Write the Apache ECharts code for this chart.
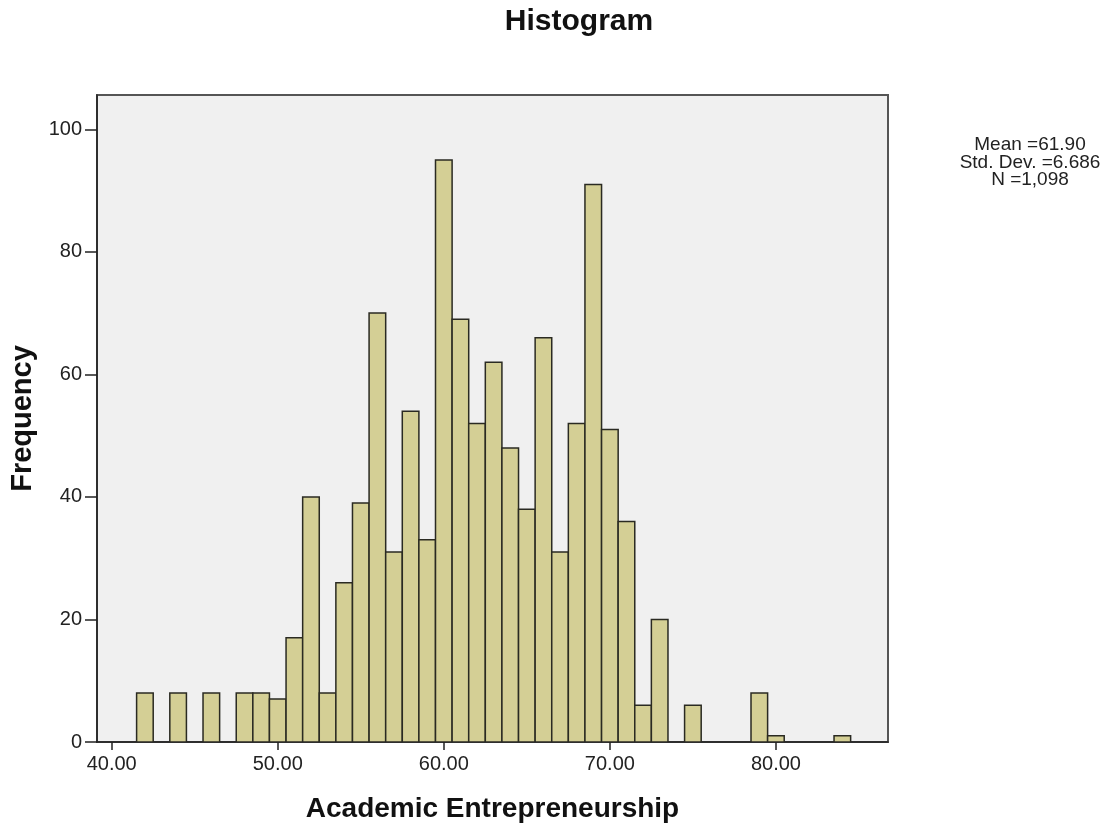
<!DOCTYPE html>
<html>
<head>
<meta charset="utf-8">
<title>Histogram</title>
<script src="https://cdn.jsdelivr.net/npm/echarts@6/dist/echarts.min.js"></script>
<style>
  html, body { margin: 0; padding: 0; background: #ffffff; }
  #main { width: 1116px; height: 829px; }
</style>
</head>
<body>
<div id="main"></div>
<script>
// bin centres (score) and how many cases fall in each bin
var binCenters = [42, 44, 46, 48, 49, 50, 51, 52, 53, 54, 55, 56, 57, 58, 59, 60, 61,
                  62, 63, 64, 65, 66, 67, 68, 69, 70, 71, 72, 73, 75, 79, 80, 84];
var frequencies = [8, 8, 8, 8, 8, 7, 17, 40, 8, 26, 39, 70, 31, 54, 33, 95, 69,
                   52, 62, 48, 38, 66, 31, 52, 91, 51, 36, 6, 20, 6, 8, 1, 1];
var binWidth = 1;
var xTicks = [40, 50, 60, 70, 80];
var yTicks = [0, 20, 40, 60, 80, 100];
var statLines = ['Mean =61.90', 'Std. Dev. =6.686', 'N =1,098'];

var seriesData = [];
for (var i = 0; i < binCenters.length; i++) {
    seriesData.push([binCenters[i], frequencies[i]]);
}

var chart = echarts.init(document.getElementById('main'));

// draw one rectangle per bin through the axis scales
function renderBin(params, api) {
    var c = api.value(0);
    var f = api.value(1);
    var p0 = api.coord([c - binWidth / 2, f]);
    var p1 = api.coord([c + binWidth / 2, 0]);
    return {
        type: 'rect',
        shape: { x: p0[0], y: p0[1], width: p1[0] - p0[0], height: p1[1] - p0[1] },
        style: { fill: '#d4cf95', stroke: '#2a2a22', lineWidth: 1.5 }
    };
}

var statText = [];
for (var k = 0; k < statLines.length; k++) {
    statText.push({
        type: 'text',
        style: {
            x: 1030, y: 145 + k * 17.5,
            text: statLines[k],
            font: '19px "Liberation Sans", Arial, sans-serif',
            fill: '#222',
            textAlign: 'center', textVerticalAlign: 'middle',
            align: 'center', verticalAlign: 'middle'
        }
    });
}

var option = {
    backgroundColor: '#ffffff',
    animation: false,
    textStyle: { fontFamily: '"Liberation Sans", Arial, sans-serif' },
    graphic: [{
        type: 'text',
        style: {
            x: 579, y: 22,
            text: 'Histogram',
            font: 'bold 30px "Liberation Sans", Arial, sans-serif',
            fill: '#111',
            textAlign: 'center', textVerticalAlign: 'middle',
            align: 'center', verticalAlign: 'middle'
        }
    }].concat(statText),
    grid: {
        left: 97, top: 95, width: 791, height: 647,
        show: true,
        backgroundColor: '#f0f0f0',
        borderColor: '#555555',
        borderWidth: 2
    },
    xAxis: {
        type: 'value',
        min: 39.115,
        max: 86.75,
        name: 'Academic Entrepreneurship',
        nameLocation: 'middle',
        nameGap: 53,
        nameTextStyle: { fontSize: 28, fontWeight: 'bold', color: '#111' },
        axisLine: { show: true, onZero: false, lineStyle: { color: '#222', width: 1.5 } },
        axisTick: { show: true, customValues: xTicks, length: 8, lineStyle: { color: '#222', width: 1.5 } },
        axisLabel: {
            customValues: xTicks,
            fontSize: 20, color: '#222', margin: 12,
            formatter: function (v) { return v.toFixed(2); }
        },
        splitLine: { show: false }
    },
    yAxis: {
        type: 'value',
        min: 0,
        max: 105.6,
        name: 'Frequency',
        nameLocation: 'middle',
        nameRotate: 90,
        nameGap: 60,
        nameTextStyle: { fontSize: 29, fontWeight: 'bold', color: '#111' },
        axisLine: { show: true, onZero: false, lineStyle: { color: '#222', width: 1.5 } },
        axisTick: { show: true, customValues: yTicks, length: 12, lineStyle: { color: '#222', width: 1.5 } },
        axisLabel: { customValues: yTicks, fontSize: 20, color: '#222', margin: 15 },
        splitLine: { show: false }
    },
    series: [{
        type: 'custom',
        renderItem: renderBin,
        encode: { x: 0, y: 1 },
        data: seriesData,
        clip: true
    }]
};

chart.setOption(option);
</script>
</body>
</html>
